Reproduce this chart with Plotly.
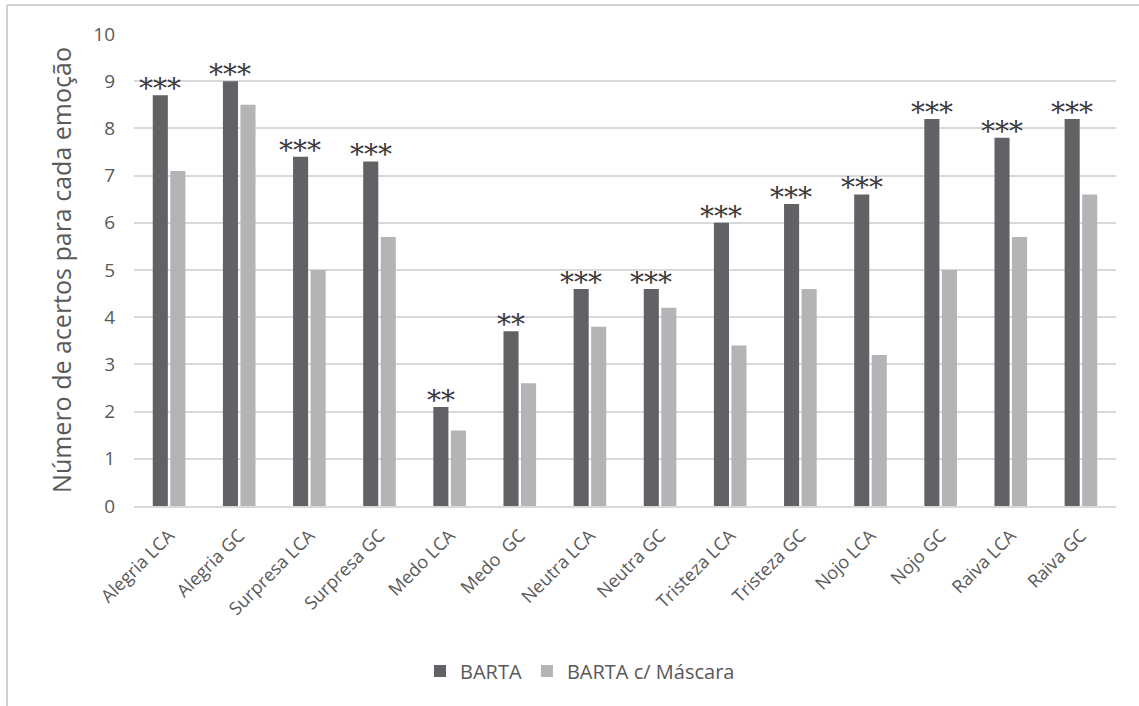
import plotly.graph_objects as go

categorias = ["Alegria LCA", "Alegria GC", "Surpresa LCA", "Surpresa GC", "Medo LCA", "Medo  GC",
              "Neutra LCA", "Neutra GC", "Tristeza LCA", "Tristeza GC", "Nojo LCA", "Nojo GC",
              "Raiva LCA", "Raiva GC"]
barta = [8.7, 9.0, 7.4, 7.3, 2.1, 3.7, 4.6, 4.6, 6.0, 6.4, 6.6, 8.2, 7.8, 8.2]
barta_mascara = [7.1, 8.5, 5.0, 5.7, 1.6, 2.6, 3.8, 4.2, 3.4, 4.6, 3.2, 5.0, 5.7, 6.6]
significancia = ["***", "***", "***", "***", "**", "**", "***", "***", "***", "***", "***", "***", "***", "***"]
y_ticks = list(range(0, 11))

W, H = 1139, 706
L, R, T, B = 134, 1116, 34, 506

fonte = "Open Sans"
cinza_texto = "#595959"

fig = go.Figure()
fig.add_trace(go.Bar(x=categorias, y=barta, name="BARTA", marker_color="#616266",
                     marker_line_width=0))
fig.add_trace(go.Bar(x=categorias, y=barta_mascara, name="BARTA c/ Máscara", marker_color="#b3b4b6",
                     marker_line_width=0))

# asterisks above the BARTA bars
for cat, val, sig in zip(categorias, barta, significancia):
    fig.add_annotation(x=cat, y=val, text=sig, showarrow=False, xref="x", yref="y",
                       xshift=-9, yanchor="bottom", yshift=-12,
                       font=dict(family="DejaVu Serif", size=28, color="#3a3a3a"))

def px_x(p):
    return (p - L) / (R - L)

def px_y(p):
    return (B - p) / (B - T)

# outer frame lines (top and left)
fig.add_shape(type="line", xref="paper", yref="paper", x0=px_x(7), x1=px_x(1139),
              y0=px_y(5), y1=px_y(5), line=dict(color="#d0d0d0", width=2))
fig.add_shape(type="line", xref="paper", yref="paper", x0=px_x(7), x1=px_x(7),
              y0=px_y(5), y1=px_y(706), line=dict(color="#d0d0d0", width=2))

fig.update_layout(
    width=W, height=H,
    margin=dict(l=L, r=W - R, t=T, b=H - B),
    plot_bgcolor="white", paper_bgcolor="white",
    barmode="group", bargap=0.5, bargroupgap=0.14,
    font=dict(family=fonte, color=cinza_texto),
    legend=dict(orientation="h", x=px_x(580), xanchor="center", y=px_y(671), yanchor="middle",
                font=dict(size=20, color=cinza_texto), itemwidth=30, traceorder="normal"),
    xaxis=dict(tickangle=-45, tickfont=dict(size=18, color=cinza_texto), showline=True,
               linecolor="#d9d9d9", linewidth=2, ticks="", showgrid=False,
               ticklabelstandoff=10),
    yaxis=dict(range=[0, 10], tickvals=y_ticks, tickfont=dict(size=19, color=cinza_texto),
               gridcolor="#d9d9d9", gridwidth=1.5, zeroline=False, showline=False,
               ticks="", ticklen=0, ticklabelstandoff=18,
               title=dict(text="Número de acertos para cada emoção",
                          font=dict(size=25, color=cinza_texto), standoff=14)),
)

fig.write_html("out.html")
